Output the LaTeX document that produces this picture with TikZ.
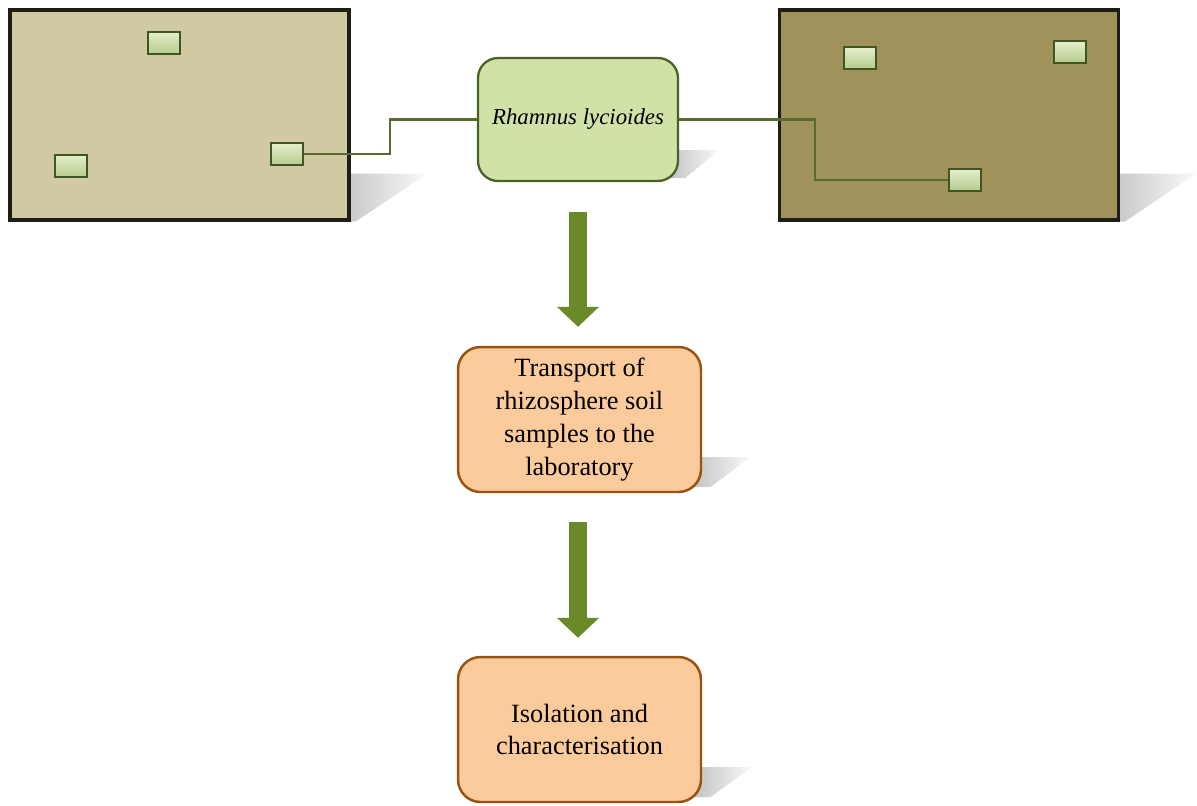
\documentclass[tikz,border=0pt]{standalone}
\usepackage{fontspec}
\setmainfont{Liberation Serif}
\usepackage{tikz}
\usetikzlibrary{positioning,arrows.meta,backgrounds}

\definecolor{soiltan}{HTML}{D1C9A1}
\definecolor{soilolive}{HTML}{A0925A}
\definecolor{plotedge}{HTML}{1E1E14}
\definecolor{markertop}{HTML}{E4EFCB}
\definecolor{markerbot}{HTML}{B6CB8E}
\definecolor{markeredge}{HTML}{3F5522}
\definecolor{plantfill}{HTML}{D1E2A8}
\definecolor{plantedge}{HTML}{4B6128}
\definecolor{linkgreen}{HTML}{556B2F}
\definecolor{stepfill}{HTML}{FCCB9C}
\definecolor{stepedge}{HTML}{9A520F}
\definecolor{arrowgreen}{HTML}{6A8A2A}

\begin{document}
\begin{tikzpicture}[
    x=0.02cm, y=-0.02cm,
    plot/.style={rectangle, draw=plotedge, line width=1.8pt, minimum width=6.78cm, minimum height=4.2cm},
    marker/.style={rectangle, draw=markeredge, top color=markertop, bottom color=markerbot, line width=1.3pt, minimum width=0.64cm, minimum height=0.44cm, inner sep=0pt},
    plant/.style={rectangle, rounded corners=0.4cm, draw=plantedge, fill=plantfill, line width=1.3pt, minimum width=4.0cm, minimum height=2.46cm, font=\fontsize{13}{16}\selectfont\itshape},
    stepbox/.style={rectangle, rounded corners=0.45cm, draw=stepedge, fill=stepfill, line width=1.4pt, minimum width=4.86cm, minimum height=2.9cm, align=center, font=\fontsize{15}{18.7}\selectfont},
    link/.style={draw=linkgreen, line width=1.5pt},
    bigarrow/.style={draw=arrowgreen, line width=0.36cm, -{Triangle[width=0.82cm, length=0.4cm]}},
    shadowfill/.style={left color=black!28, right color=black!2}
]
\useasboundingbox (0,0) rectangle (1197,805);

% sampling plots
\node[plot, fill=soiltan] (plotA) at (179.5,115) {};
\node[plot, fill=soilolive] (plotB) at (949,115) {};

\node[marker] (mA1) at (164,43) {};
\node[marker] (mA2) at (71,166) {};
\node[marker] (mA3) at (287,154) {};
\node[marker] (mB1) at (860,58) {};
\node[marker] (mB2) at (1070,52) {};
\node[marker] (mB3) at (965,180) {};

% plant and steps
\node[plant] (rhamnus) at (578,119.5) {Rhamnus lycioides};
\node[stepbox] (transport) at (579.5,419.5) {Transport of\\rhizosphere soil\\samples to the\\laboratory};
\node[stepbox] (isolation) at (579.5,729.5) {Isolation and\\characterisation};

\draw[link] (mA3.east) -- ++(86,0) |- (rhamnus.west);
\draw[link] (rhamnus.east) -- ++(136,0) |- (mB3.west);

\draw[bigarrow] ([shift={(0,30)}]rhamnus.south) -- ([shift={(-1.5,-19)}]transport.north);
\draw[bigarrow] ([shift={(-1.5,29)}]transport.south) -- ([shift={(-1.5,-18)}]isolation.north);

% shadows
\begin{scope}[on background layer]
\shade[shadowfill] ([shift={(-30,-48)}]plotA.south east) -- ++(107,0) -- ([shift={(5,0)}]plotA.south east) -- ([shift={(-30,0)}]plotA.south east) -- cycle;
\shade[shadowfill] ([shift={(-30,-48)}]plotB.south east) -- ++(106,0) -- ([shift={(5,0)}]plotB.south east) -- ([shift={(-30,0)}]plotB.south east) -- cycle;
\shade[shadowfill] ([shift={(-20,-32)}]rhamnus.south east) -- ++(60,0) -- ([shift={(6,-4)}]rhamnus.south east) -- ([shift={(-20,-4)}]rhamnus.south east) -- cycle;
\shade[shadowfill] ([shift={(-20,-36)}]transport.south east) -- ++(68,0) -- ([shift={(8,-6)}]transport.south east) -- ([shift={(-20,-6)}]transport.south east) -- cycle;
\shade[shadowfill] ([shift={(-20,-36)}]isolation.south east) -- ++(70,0) -- ([shift={(8,-6)}]isolation.south east) -- ([shift={(-20,-6)}]isolation.south east) -- cycle;
\end{scope}
\end{tikzpicture}
\end{document}
